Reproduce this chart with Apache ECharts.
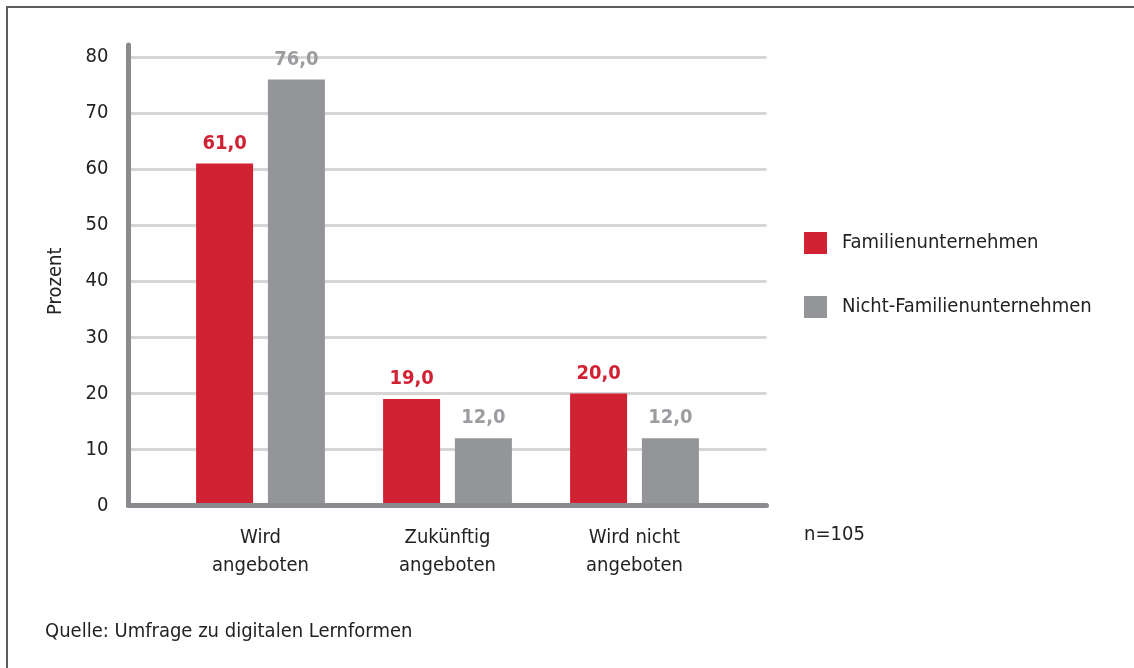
<!DOCTYPE html>
<html>
<head>
<meta charset="utf-8">
<script src="https://cdn.jsdelivr.net/npm/echarts@6/dist/echarts.min.js"></script>
<style>
  html, body { margin: 0; padding: 0; background: #fff; }
  #chart { width: 1134px; height: 668px; }
</style>
</head>
<body>
<div id="chart"></div>
<script>
// Daten
const categories = ['Wird\nangeboten', 'Zukünftig\nangeboten', 'Wird nicht\nangeboten'];
const familienValues = [61.0, 19.0, 20.0];
const nichtFamilienValues = [76.0, 12.0, 12.0];
const seriesNames = ['Familienunternehmen', 'Nicht-Familienunternehmen'];
const yTicks = { min: 0, max: 80, interval: 10 };
const sampleNote = 'n=105';
const sourceNote = 'Quelle: Umfrage zu digitalen Lernformen';

const FONT = "'Liberation Sans Narrow', 'DejaVu Sans Condensed', 'Noto Sans', sans-serif";
const RED = '#d12234';
const GREY = '#939598';
const GREY_LABEL = '#9c9da0';
const AXIS = '#8a8b8e';
const TEXT = '#222222';

const chart = echarts.init(document.getElementById('chart'));

function fmt(p) {
  return p.value.toFixed(1).replace('.', ',');
}

let option = {
  animation: false,
  textStyle: { fontFamily: FONT },
  grid: [
    // 0: Gitterlinien + Beschriftung
    { left: 128.5, top: 57, width: 638, height: 448.5 },
    // 1: Achsenlinien (ragt über 80 hinaus)
    { left: 128.5, top: 45, width: 638, height: 460.5 },
    // 2: Balken
    { left: 167, top: 57, width: 561, height: 448.5 }
  ],
  legend: {
    orient: 'vertical',
    left: 799,
    top: 227,
    itemWidth: 23,
    itemHeight: 22,
    itemGap: 42,
    icon: 'rect',
    textStyle: { fontSize: 20, color: TEXT, fontFamily: FONT, padding: [0, 0, 0, 10] },
    data: seriesNames
  },
  xAxis: [
    { gridIndex: 0, type: 'category', show: false, data: [''] },
    {
      gridIndex: 1, type: 'category', data: [''], z: 5,
      axisLine: { lineStyle: { color: AXIS, width: 5 } },
      axisTick: { show: false }, axisLabel: { show: false }
    },
    {
      gridIndex: 2, type: 'category', data: categories,
      axisLine: { show: false }, axisTick: { show: false },
      axisLabel: { fontSize: 20, lineHeight: 28, color: TEXT, margin: 18, fontFamily: FONT }
    }
  ],
  yAxis: [
    {
      gridIndex: 0, type: 'value',
      min: yTicks.min, max: yTicks.max, interval: yTicks.interval,
      name: 'Prozent', nameLocation: 'middle', nameRotate: 90, nameGap: 63,
      nameTextStyle: { fontSize: 20, color: TEXT, fontFamily: FONT },
      axisLine: { show: false }, axisTick: { show: false },
      axisLabel: { fontSize: 20, color: TEXT, margin: 20, fontFamily: FONT },
      splitLine: { lineStyle: { color: '#d6d6d6', width: 3 } }
    },
    {
      gridIndex: 1, type: 'value', min: 0, max: 82, z: 5,
      axisLine: { show: true, lineStyle: { color: AXIS, width: 5 } },
      axisTick: { show: false }, axisLabel: { show: false },
      splitLine: { show: false }
    },
    {
      gridIndex: 2, type: 'value',
      min: yTicks.min, max: yTicks.max, interval: yTicks.interval,
      show: false, splitLine: { show: false }
    }
  ],
  series: [
    {
      name: seriesNames[0],
      type: 'bar',
      xAxisIndex: 2, yAxisIndex: 2,
      barWidth: 57, barGap: '26%',
      itemStyle: { color: RED },
      z: 1,
      label: {
        show: true, position: 'top', distance: 10,
        formatter: fmt, fontSize: 20, fontWeight: 'bold', color: RED, fontFamily: FONT
      },
      data: familienValues
    },
    {
      name: seriesNames[1],
      type: 'bar',
      xAxisIndex: 2, yAxisIndex: 2,
      barWidth: 57, barGap: '26%',
      itemStyle: { color: GREY },
      z: 1,
      label: {
        show: true, position: 'top', distance: 10,
        formatter: fmt, fontSize: 20, fontWeight: 'bold', color: GREY_LABEL, fontFamily: FONT
      },
      data: nichtFamilienValues
    }
  ],
  graphic: [
    {
      type: 'polyline',
      shape: { points: [[7, 668], [7, 7], [1134, 7]] },
      style: { stroke: '#5c5c5c', lineWidth: 2, fill: null }
    },
    {
      type: 'text', left: 804, top: 525,
      style: { text: sampleNote, fontSize: 20, fill: TEXT, fontFamily: FONT }
    },
    {
      type: 'text', left: 45, top: 622,
      style: { text: sourceNote, fontSize: 20, fill: TEXT, fontFamily: FONT }
    }
  ]
};

chart.setOption(option);
</script>
</body>
</html>
